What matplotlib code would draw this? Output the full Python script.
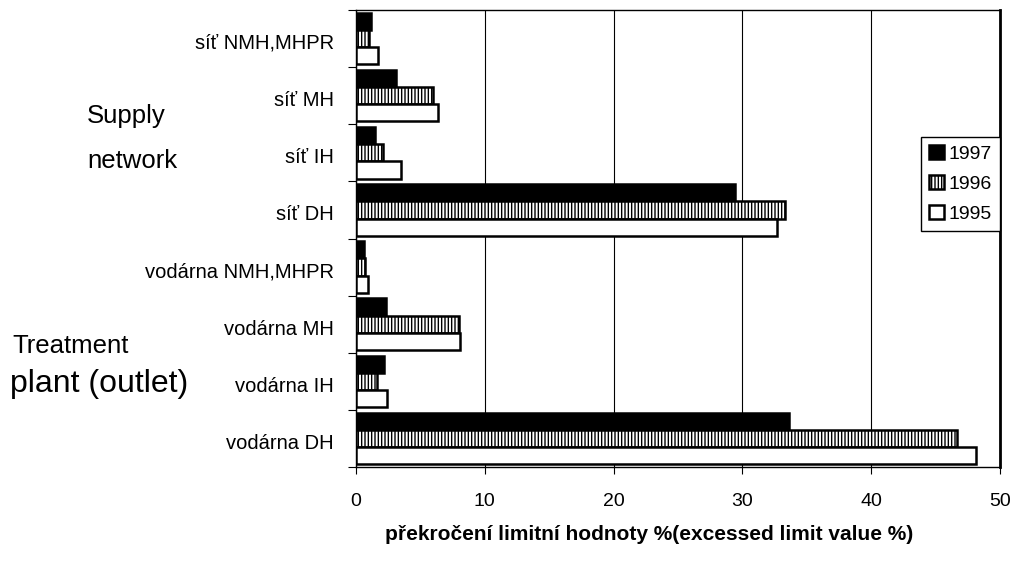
import numpy as np
import matplotlib
matplotlib.use("Agg")
import matplotlib.pyplot as plt

# categories, top to bottom
categories = ["síť NMH,MHPR", "síť MH", "síť IH", "síť DH",
              "vodárna NMH,MHPR", "vodárna MH", "vodárna IH", "vodárna DH"]
years = ["1997", "1996", "1995"]
v1997 = [1.2, 3.1, 1.5, 29.4, 0.6, 2.3, 2.2, 33.6]
v1996 = [1.0, 6.0, 2.1, 33.3, 0.7, 8.0, 1.6, 46.7]
v1995 = [1.7, 6.4, 3.5, 32.7, 0.9, 8.1, 2.4, 48.1]

plt.rcParams["font.family"] = ["Liberation Sans", "DejaVu Sans"]
plt.rcParams["hatch.linewidth"] = 1.0

fig = plt.figure(figsize=(10.13, 5.63), dpi=100)
ax = fig.add_axes([356 / 1013, 1 - 467 / 563, 644 / 1013, 457 / 563])

y = np.arange(len(categories))
h = 0.3
styles = [dict(color="black"), dict(color="white", hatch="|||||"), dict(color="white")]
for k, (vals, lab, st) in enumerate(zip([v1997, v1996, v1995], years, styles)):
    ax.barh(y + (k - 1) * h, vals, height=h, edgecolor="black", linewidth=1.8,
            label=lab, zorder=3, **st)

ax.set_xlim(0, 50)
ax.set_ylim(len(categories) - 0.5, -0.5)
ax.set_xticks(range(0, 51, 10))
ax.tick_params(axis="x", labelsize=14, length=5, pad=14, color="black")
ax.set_yticks(np.arange(-0.5, len(categories), 1.0))
ax.set_yticklabels([])
ax.set_yticks(y + 0.05, minor=True)
ax.set_yticklabels(categories, minor=True, fontsize=14.5)
ax.tick_params(axis="y", which="major", length=6)
ax.tick_params(axis="y", which="minor", length=0, pad=16)
ax.grid(axis="x", color="black", linewidth=0.8, zorder=0)
for s in ax.spines.values():
    s.set_color("black")
    s.set_linewidth(1.0)
ax.spines["right"].set_linewidth(2.0)

leg = ax.legend(loc="upper right", bbox_to_anchor=(1000 / 1013, 1 - 137 / 563),
                bbox_transform=fig.transFigure, fontsize=14, frameon=True,
                fancybox=False, edgecolor="black", framealpha=1,
                handlelength=0.75, handleheight=0.75, handletextpad=0.25,
                labelspacing=0.62, borderpad=0.42, borderaxespad=0)
leg.get_frame().set_linewidth(1.0)

fig.text(87 / 1013, 1 - 123 / 563, "Supply", fontsize=18.5, va="baseline")
fig.text(87 / 1013, 1 - 168 / 563, "network", fontsize=18.5, va="baseline")
fig.text(12 / 1013, 1 - 353 / 563, "Treatment", fontsize=18.5, va="baseline")
fig.text(10 / 1013, 1 - 392 / 563, "plant (outlet)", fontsize=23, va="baseline")

fig.text(649 / 1013, 1 - 535 / 563, "překročení limitní hodnoty %(excessed limit value %)",
         fontsize=15, fontweight="bold", ha="center", va="center")

fig.savefig("out.png", dpi=100)
